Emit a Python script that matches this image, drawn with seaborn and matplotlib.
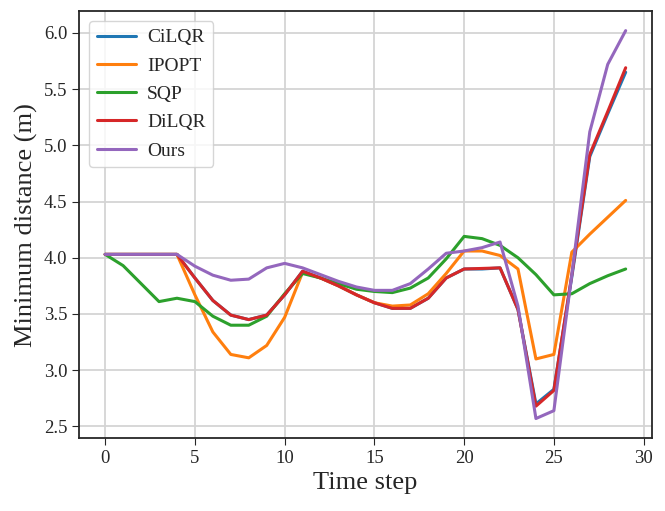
import matplotlib
matplotlib.use('Agg')
import matplotlib.pyplot as plt
import pandas as pd
import seaborn as sns

steps = list(range(30))

cilqr = [4.03, 4.03, 4.03, 4.03, 4.03, 3.82, 3.62, 3.49, 3.45, 3.49,
         3.67, 3.88, 3.82, 3.75, 3.67, 3.60, 3.55, 3.55, 3.64, 3.82,
         3.90, 3.90, 3.91, 3.54, 2.70, 2.83, 3.83, 4.90, 5.28, 5.65]
ipopt = [4.03, 4.03, 4.03, 4.03, 4.03, 3.67, 3.34, 3.14, 3.11, 3.22,
         3.47, 3.87, 3.82, 3.75, 3.67, 3.60, 3.57, 3.58, 3.68, 3.86,
         4.06, 4.06, 4.02, 3.90, 3.10, 3.14, 4.05, 4.21, 4.36, 4.51]
sqp = [4.03, 3.93, 3.77, 3.61, 3.64, 3.61, 3.48, 3.40, 3.40, 3.48,
       3.68, 3.86, 3.82, 3.77, 3.72, 3.70, 3.69, 3.73, 3.82, 3.99,
       4.19, 4.17, 4.11, 4.00, 3.85, 3.67, 3.68, 3.77, 3.84, 3.90]
dilqr = [4.03, 4.03, 4.03, 4.03, 4.03, 3.82, 3.62, 3.49, 3.45, 3.49,
         3.67, 3.88, 3.82, 3.75, 3.67, 3.60, 3.55, 3.55, 3.64, 3.82,
         3.90, 3.905, 3.91, 3.54, 2.68, 2.82, 3.85, 4.92, 5.30, 5.69]
ours = [4.03, 4.03, 4.03, 4.03, 4.03, 3.925, 3.845, 3.80, 3.81, 3.91,
        3.95, 3.91, 3.85, 3.79, 3.74, 3.71, 3.71, 3.77, 3.90, 4.04,
        4.06, 4.09, 4.14, 3.57, 2.57, 2.64, 3.85, 5.12, 5.72, 6.02]

methods = ['CiLQR', 'IPOPT', 'SQP', 'DiLQR', 'Ours']
series = [cilqr, ipopt, sqp, dilqr, ours]

rows = []
for name, vals in zip(methods, series):
    for t, v in zip(steps, vals):
        rows.append({'Time step': t, 'Minimum distance (m)': v, 'method': name})
df = pd.DataFrame(rows)

sns.set_style('whitegrid', {'axes.edgecolor': '0.15', 'xtick.bottom': True,
                            'ytick.left': True, 'grid.color': '0.83'})
plt.rcParams['font.family'] = ['Liberation Serif', 'DejaVu Serif']

fig, ax = plt.subplots(figsize=(6.65, 5.11), dpi=100)
sns.lineplot(data=df, x='Time step', y='Minimum distance (m)', hue='method',
             hue_order=methods, palette='tab10', linewidth=2.2, ax=ax)

ax.set_xlabel('Time step', fontsize=19)
ax.set_ylabel('Minimum distance (m)', fontsize=19)
ax.tick_params(labelsize=13.5, length=5, color='0.15')
ax.set_xticks([0, 5, 10, 15, 20, 25, 30])
ax.grid(linewidth=1.3)
for s in ax.spines.values():
    s.set_linewidth(1.3)
ax.legend(loc='upper left', fontsize=14, frameon=True, handlelength=2.0,
          labelspacing=0.55, handletextpad=0.6)

fig.subplots_adjust(left=0.119, right=0.98, bottom=0.143, top=0.978)
fig.savefig('out.png', dpi=100)
